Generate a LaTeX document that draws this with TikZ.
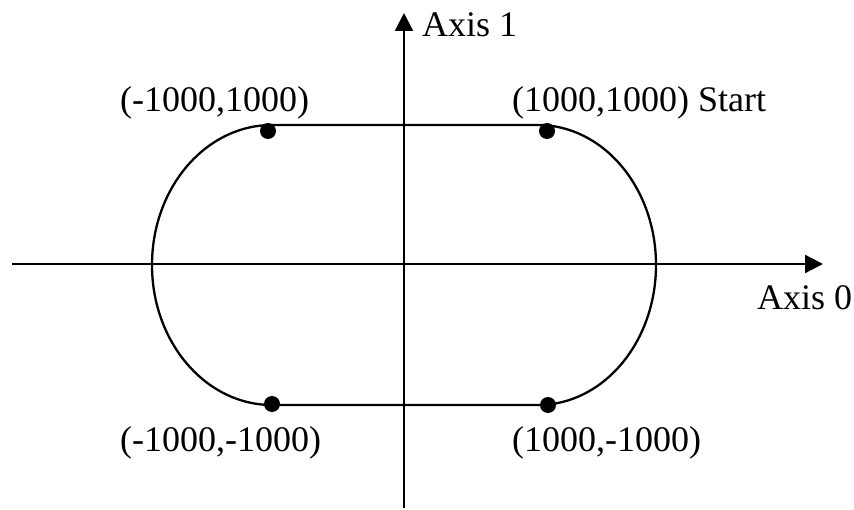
\documentclass[tikz,border=0pt]{standalone}
\usepackage{fontspec}
\setmainfont{Liberation Serif}
\usetikzlibrary{arrows.meta}
\begin{document}
\begin{tikzpicture}[x=1pt,y=-1pt, line width=2.3pt,
  lbl/.style={font=\fontsize{36}{40}\selectfont, anchor=base west, inner sep=0pt},
  pt/.style={circle, fill=black, inner sep=0pt, minimum size=16pt},
  axisarrow/.style={-{Triangle[length=18pt,width=18pt]}}]
\useasboundingbox (0,0) rectangle (854,510);
\coordinate (xs) at (12,264);
\coordinate (xe) at (823,264);
\coordinate (ys) at (404,508);
\coordinate (ye) at (404,13);
\draw[axisarrow] (xs) -- (xe);
\draw[axisarrow] (ys) -- (ye);
\draw (272,125) -- (538,125)
  arc[start angle=-90, end angle=90, x radius=118, y radius=140]
  -- (272,405)
  arc[start angle=90, end angle=270, x radius=120, y radius=140]
  -- cycle;
\node[pt] (p1) at (268,131) {};
\node[pt] (p2) at (547,131) {};
\node[pt] (p3) at (272,404) {};
\node[pt] (p4) at (548,405) {};
\node[lbl] (l1) at (119,112) {(-1000,1000)};
\node[lbl] (l2) at (511,112) {(1000,1000) Start};
\node[lbl] (l3) at (119,451) {(-1000,-1000)};
\node[lbl] (l4) at (511,451) {(1000,-1000)};
\node[lbl] (a1) at (421,37) {Axis 1};
\node[lbl] (a0) at (756,310) {Axis 0};
\end{tikzpicture}
\end{document}
